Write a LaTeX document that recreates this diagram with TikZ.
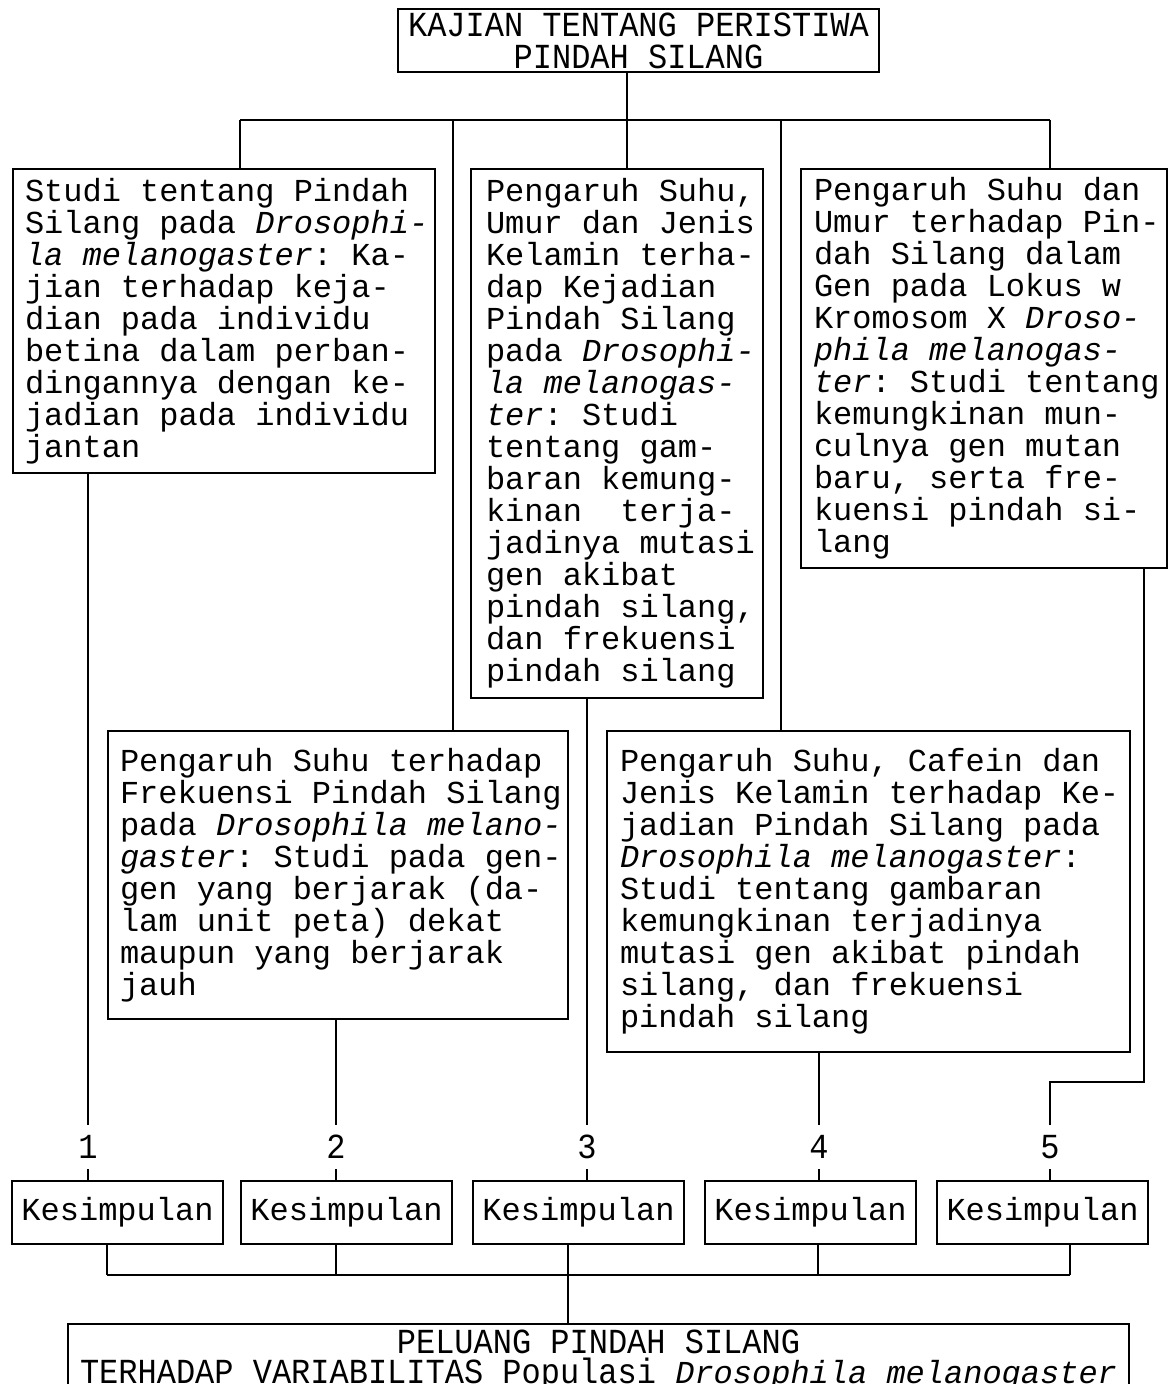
\documentclass[tikz,border=0pt]{standalone}
\usepackage{fontspec}
\usepackage{graphicx}
\newfontfamily\mymono{Liberation Mono}
\newcommand\bodyfont{\mymono\fontsize{16pt}{16pt}\selectfont\frenchspacing}
\newcommand\fixsp{\spaceskip=9.6pt\xspaceskip=9.6pt\relax}
\newcommand\tallt[1]{\scalebox{1}[1.1]{#1}}
\begin{document}
\begin{tikzpicture}[x=0.5pt,y=-0.5pt,
  txtbox/.style={draw, line width=1pt, anchor=north west, inner sep=0pt, align=left, font=\bodyfont},
  ctrbox/.style={draw, line width=1pt, anchor=north west, inner sep=0pt, align=center, font=\bodyfont},
  kbox/.style={draw, line width=1pt, anchor=north west, minimum width=105.5pt, minimum height=31.5pt, inner sep=0pt, font=\bodyfont},
  num/.style={inner xsep=0pt, inner ysep=5pt, font=\bodyfont},
  conn/.style={line width=1pt}]
\useasboundingbox (0,0) rectangle (1168,1384);
\clip (0,0) rectangle (1168,1384);
\fill[white] (0,0) rectangle (1168,1384);

% title
\node[ctrbox, text width=240.5pt, minimum height=31.5pt] (T) at (397,8)
  {\fixsp\tallt{KAJIAN TENTANG PERISTIWA}\\ \tallt{PINDAH SILANG}\par};

% first row
\node[txtbox, text width=211pt, minimum height=152pt] (A) at (12,168)
  {\fixsp\leftskip=6pt\relax
   Studi tentang Pindah\\
   Silang pada \textit{Drosophi-}\\
   \textit{la melanogaster}: Ka-\\
   jian terhadap keja-\\
   dian pada individu\\
   betina dalam perban-\\
   dingannya dengan ke-\\
   jadian pada individu\\
   jantan\par\vspace*{6pt}};
\node[txtbox, text width=146pt, minimum height=264.5pt] (B) at (470,168)
  {\fixsp\leftskip=7.5pt\relax
   Pengaruh Suhu,\\
   Umur dan Jenis\\
   Kelamin terha-\\
   dap Kejadian\\
   Pindah Silang\\
   pada \textit{Drosophi-}\\
   \textit{la melanogas-}\\
   \textit{ter}: Studi\\
   tentang gam-\\
   baran kemung-\\
   kinan~\ terja-\\
   jadinya mutasi\\
   gen akibat\\
   pindah silang,\\
   dan frekuensi\\
   pindah silang\par\vspace*{6pt}};
\node[txtbox, text width=183pt, minimum height=199.5pt] (C) at (800,168)
  {\fixsp\leftskip=6.5pt\relax
   Pengaruh Suhu dan\\
   Umur terhadap Pin-\\
   dah Silang dalam\\
   Gen pada Lokus w\\
   Kromosom X \textit{Droso-}\\
   \textit{phila melanogas-}\\
   \textit{ter}: Studi tentang\\
   kemungkinan mun-\\
   culnya gen mutan\\
   baru, serta fre-\\
   kuensi pindah si-\\
   lang\par\vspace*{6pt}};

% second row
\node[txtbox, text width=230pt, minimum height=144pt] (D) at (107,730)
  {\fixsp\leftskip=6pt\relax
   Pengaruh Suhu terhadap\\
   Frekuensi Pindah Silang\\
   pada \textit{Drosophila melano-}\\
   \textit{gaster}: Studi pada gen-\\
   gen yang berjarak (da-\\
   lam unit peta) dekat\\
   maupun yang berjarak\\
   jauh\par};
\node[txtbox, text width=261.5pt, minimum height=160.5pt] (E) at (606,730)
  {\fixsp\leftskip=6.5pt\relax
   Pengaruh Suhu, Cafein dan\\
   Jenis Kelamin terhadap Ke-\\
   jadian Pindah Silang pada\\
   \textit{Drosophila melanogaster}:\\
   Studi tentang gambaran\\
   kemungkinan terjadinya\\
   mutasi gen akibat pindah\\
   silang, dan frekuensi\\
   pindah silang\par};

% numbers
\node[num] (n1) at (88,1147) {\tallt{1}};
\node[num] (n2) at (336,1147) {\tallt{2}};
\node[num] (n3) at (587,1147) {\tallt{3}};
\node[num] (n4) at (819,1147) {\tallt{4}};
\node[num] (n5) at (1050,1147) {\tallt{5}};

% conclusions
\node[kbox] (k1) at (11,1180) {Kesimpulan};
\node[kbox] (k2) at (240,1180) {Kesimpulan};
\node[kbox] (k3) at (472,1180) {Kesimpulan};
\node[kbox] (k4) at (704,1180) {Kesimpulan};
\node[kbox] (k5) at (936,1180) {Kesimpulan};

% final box
\node[ctrbox, text width=530.5pt, inner ysep=3pt] (F) at (67,1323)
  {\fixsp\baselineskip=15pt
   \tallt{PELUANG PINDAH SILANG}\\
   \tallt{TERHADAP VARIABILITAS Populasi} \textit{Drosophila melanogaster}\par};

% top connectors
\coordinate (tj) at (627,120);
\coordinate (bl) at (240,120);
\coordinate (br) at (1050,120);
\coordinate (c2) at (453,120);
\coordinate (c4) at (781,120);
\draw[conn] (T.south -| tj) -- (tj);
\draw[conn] (bl) -- (br);
\draw[conn] (bl) -- (bl |- A.north);
\draw[conn] (c2) -- (c2 |- D.north);
\draw[conn] (tj) -- (tj |- B.north);
\draw[conn] (c4) -- (c4 |- E.north);
\draw[conn] (br) -- (br |- C.north);

% to numbers
\draw[conn] (A.south -| n1) -- (n1.north);
\draw[conn] (D.south -| n2) -- (n2.north);
\draw[conn] (B.south -| n3) -- (n3.north);
\draw[conn] (E.south -| n4) -- (n4.north);
\coordinate (c5) at (1144,1082);
\draw[conn] (C.south -| c5) -- (c5) -| (n5.north);

% numbers to conclusions
\draw[conn] (n1.south) -- (n1.south |- k1.north);
\draw[conn] (n2.south) -- (n2.south |- k2.north);
\draw[conn] (n3.south) -- (n3.south |- k3.north);
\draw[conn] (n4.south) -- (n4.south |- k4.north);
\draw[conn] (n5.south) -- (n5.south |- k5.north);

% bottom collector
\coordinate (m1) at (107,1275);
\coordinate (m2) at (336,1275);
\coordinate (m3) at (568,1275);
\coordinate (m4) at (818,1275);
\coordinate (m5) at (1070,1275);
\draw[conn] (k1.south -| m1) -- (m1);
\draw[conn] (k2.south -| m2) -- (m2);
\draw[conn] (k4.south -| m4) -- (m4);
\draw[conn] (k5.south -| m5) -- (m5);
\draw[conn] (m1) -- (m5);
\draw[conn] (k3.south -| m3) -- (m3 |- F.north);
\end{tikzpicture}
\end{document}
